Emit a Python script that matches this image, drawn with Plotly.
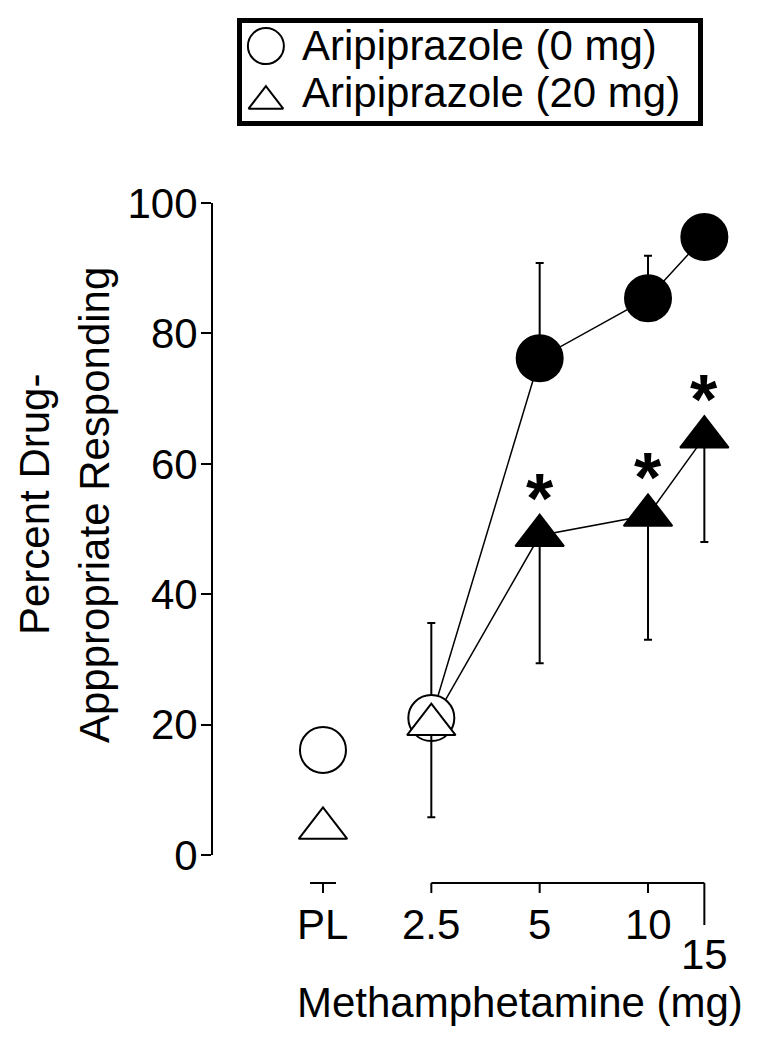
import plotly.graph_objects as go

# ---------------- data ----------------
dose_labels = ["PL", "2.5", "5", "10", "15"]
dose_pos = [0, 1, 2, 3, 3.52]          # horizontal position of each dose on the axis
ari0_mean = [16.1, 21.0, 76.2, 85.4, 94.8]
ari0_sem_up = [0, 14.6, 14.6, 6.5, 0]
ari20_mean = [4.1, 20.0, 49.0, 52.1, 64.1]
ari20_sem_down = [0, 14.2, 19.6, 19.1, 16.1]
ari20_sig = [False, False, True, True, True]
open_marker = [True, True, False, False, False]
y_ticks = [0, 20, 40, 60, 80, 100]
series_names = ["Aripiprazole (0 mg)", "Aripiprazole (20 mg)"]

# ---------------- style / layout constants ----------------
PAGE_W, PAGE_H = 766, 1048
BODY_MARGIN = 8                       # default page margin around the plot div
W, H = PAGE_W - BODY_MARGIN, PAGE_H - BODY_MARGIN
FONT = "Liberation Sans, Arial, Helvetica, sans-serif"
FS = 42
PLOT_L, PLOT_R, PLOT_T, PLOT_B = 213, 740, 203, 855
X_RANGE = [-1.015, 3.849]


def px_x(p):
    return (p - BODY_MARGIN) / W


def px_y(p):
    return (PAGE_H - p) / H


fill = ["white" if o else "black" for o in open_marker]

fig = go.Figure()

# triangle connecting line (drawn underneath everything)
fig.add_trace(go.Scatter(
    x=dose_pos[1:], y=ari20_mean[1:], mode="lines",
    line=dict(color="black", width=1.5), showlegend=False, hoverinfo="skip",
    cliponaxis=False))

# circles (0 mg)
fig.add_trace(go.Scatter(
    x=dose_pos[1:], y=ari0_mean[1:], mode="lines+markers",
    line=dict(color="black", width=1.5),
    marker=dict(symbol="circle", size=46, color=fill[1:],
                line=dict(color="black", width=2)),
    error_y=dict(type="data", symmetric=False, array=ari0_sem_up[1:],
                 arrayminus=[0] * 4, color="black", thickness=2, width=4),
    showlegend=False, cliponaxis=False))
fig.add_trace(go.Scatter(
    x=dose_pos[:1], y=ari0_mean[:1], mode="markers",
    marker=dict(symbol="circle", size=46, color=fill[:1],
                line=dict(color="black", width=2)),
    showlegend=False, cliponaxis=False))

# triangles (20 mg)
fig.add_trace(go.Scatter(
    x=dose_pos[1:], y=ari20_mean[1:], mode="markers",
    marker=dict(symbol="triangle-up", size=42, color=fill[1:],
                line=dict(color="black", width=2)),
    error_y=dict(type="data", symmetric=False, array=[0] * 4,
                 arrayminus=ari20_sem_down[1:], color="black", thickness=2, width=4),
    showlegend=False, cliponaxis=False))
fig.add_trace(go.Scatter(
    x=dose_pos[:1], y=ari20_mean[:1], mode="markers",
    marker=dict(symbol="triangle-up", size=42, color=fill[:1],
                line=dict(color="black", width=2)),
    showlegend=False, cliponaxis=False))

# legend keys (own small axes covering the legend box)
LEG_X0, LEG_X1, LEG_Y0, LEG_Y1 = 237, 703, 18, 126
fig.add_trace(go.Scatter(
    x=[0.062], y=[0.74], mode="markers", xaxis="x2", yaxis="y2",
    marker=dict(symbol="circle", size=36, color="white", line=dict(color="black", width=2)),
    showlegend=False, hoverinfo="skip", cliponaxis=False))
fig.add_trace(go.Scatter(
    x=[0.062], y=[0.23], mode="markers", xaxis="x2", yaxis="y2",
    marker=dict(symbol="triangle-up", size=30, color="white", line=dict(color="black", width=2)),
    showlegend=False, hoverinfo="skip", cliponaxis=False))

annotations = []
# legend texts
annotations.append(dict(x=px_x(300), y=px_y(46), xref="paper", yref="paper",
                        text=series_names[0], showarrow=False, xanchor="left",
                        yanchor="middle", font=dict(size=FS, color="black", family=FONT)))
annotations.append(dict(x=px_x(300), y=px_y(92), xref="paper", yref="paper",
                        text=series_names[1], showarrow=False, xanchor="left",
                        yanchor="middle", font=dict(size=FS, color="black", family=FONT)))

# significance stars
for xp, yv, s in zip(dose_pos, ari20_mean, ari20_sig):
    if s:
        annotations.append(dict(x=xp, y=yv, xref="x", yref="y", text="<b>*</b>",
                                showarrow=False, xanchor="center", yanchor="middle",
                                yshift=37, font=dict(size=70, color="black", family=FONT)))

# x tick labels
for i, (lab, xp) in enumerate(zip(dose_labels, dose_pos)):
    ypix = 954 if i == len(dose_labels) - 1 else 924
    annotations.append(dict(x=xp, y=px_y(ypix), xref="x", yref="paper", text=lab,
                            showarrow=False, xanchor="center", yanchor="middle",
                            font=dict(size=FS, color="black", family=FONT)))

# axis titles
annotations.append(dict(x=px_x(520), y=px_y(1002), xref="paper", yref="paper",
                        text="Methamphetamine (mg)", showarrow=False, xanchor="center",
                        yanchor="middle", font=dict(size=FS, color="black", family=FONT)))
annotations.append(dict(x=px_x(35), y=px_y(505), xref="paper", yref="paper",
                        text="Percent Drug-", showarrow=False, textangle=-90,
                        xanchor="center", yanchor="middle",
                        font=dict(size=FS, color="black", family=FONT)))
annotations.append(dict(x=px_x(95), y=px_y(505), xref="paper", yref="paper",
                        text="Apppropriate Responding", showarrow=False, textangle=-90,
                        xanchor="center", yanchor="middle",
                        font=dict(size=FS, color="black", family=FONT)))

# x-axis drawn as broken segments
shapes = []
y_axis_line = px_y(883)
y_tick_end = px_y(893)
y_tick_end_long = px_y(925)
seg = 0.12
shapes.append(dict(type="line", xref="x", yref="paper", x0=dose_pos[0] - seg, x1=dose_pos[0] + seg,
                   y0=y_axis_line, y1=y_axis_line, line=dict(color="black", width=2)))
shapes.append(dict(type="line", xref="x", yref="paper", x0=dose_pos[1], x1=dose_pos[-1],
                   y0=y_axis_line, y1=y_axis_line, line=dict(color="black", width=2)))
for i, xp in enumerate(dose_pos):
    yend = y_tick_end_long if i == len(dose_pos) - 1 else y_tick_end
    shapes.append(dict(type="line", xref="x", yref="paper", x0=xp, x1=xp,
                       y0=y_axis_line, y1=yend, line=dict(color="black", width=2)))

# legend border
shapes.append(dict(type="rect", xref="paper", yref="paper",
                   x0=px_x(LEG_X0 + 2.5), x1=px_x(LEG_X1 - 2.5),
                   y0=px_y(LEG_Y0 + 2.5), y1=px_y(LEG_Y1 - 2.5),
                   line=dict(color="black", width=5), fillcolor="rgba(0,0,0,0)"))

fig.update_layout(
    width=W, height=H, autosize=False,
    margin=dict(l=0, r=0, t=0, b=0, pad=0, autoexpand=False),
    paper_bgcolor="white", plot_bgcolor="white",
    font=dict(family=FONT, size=FS, color="black"),
    showlegend=False,
    xaxis=dict(domain=[px_x(PLOT_L), px_x(PLOT_R)], range=X_RANGE, visible=False,
               fixedrange=True),
    yaxis=dict(domain=[px_y(PLOT_B), px_y(PLOT_T)], range=[0, 100],
               tickvals=y_ticks, ticks="outside", ticklen=10, tickwidth=2,
               tickcolor="black", showline=True, linewidth=2, linecolor="black",
               showgrid=False, zeroline=False, automargin=False,
               ticklabelstandoff=-5,
               tickfont=dict(size=FS, color="black", family=FONT)),
    xaxis2=dict(domain=[px_x(LEG_X0), px_x(LEG_X1)], range=[0, 1], visible=False,
                anchor="y2"),
    yaxis2=dict(domain=[px_y(LEG_Y1), px_y(LEG_Y0)], range=[0, 1], visible=False,
                anchor="x2"),
    annotations=annotations,
    shapes=shapes,
)

fig.write_html("out.html", config={"displayModeBar": False})
